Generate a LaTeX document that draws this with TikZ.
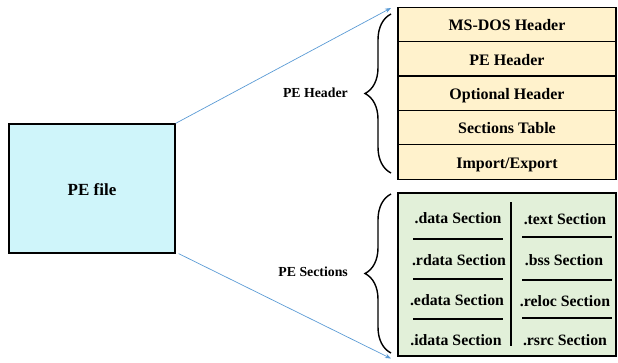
\documentclass[tikz,border=0pt]{standalone}
\usepackage{fontspec}
\setmainfont{Liberation Serif}
\usetikzlibrary{decorations.pathreplacing,arrows.meta}
\definecolor{hdrfill}{RGB}{255,242,204}
\definecolor{secfill}{RGB}{226,240,217}
\definecolor{pefill}{RGB}{207,245,250}
\definecolor{arrowblue}{RGB}{91,155,213}
\begin{document}
\begin{tikzpicture}[x=1pt,y=-1pt,
  pebox/.style={draw=black,line width=1.2pt,fill=pefill,minimum width=166pt,minimum height=129pt,inner sep=0pt,text height=13pt,text depth=0pt,font=\fontsize{17}{20}\selectfont\bfseries},
  hdrrow/.style={draw=black,line width=1.2pt,fill=hdrfill,minimum width=218pt,minimum height=34.4pt,inner sep=0pt,text height=12.4pt,text depth=0pt,font=\fontsize{16}{19}\selectfont\bfseries},
  secbox/.style={draw=black,line width=1.2pt,fill=secfill,minimum width=218pt,minimum height=163pt,inner sep=0pt},
  sectxt/.style={anchor=base,inner sep=0pt,font=\fontsize{15.8}{19}\selectfont\bfseries},
  grplabel/.style={anchor=base east,inner sep=0pt,font=\fontsize{13.8}{16}\selectfont\bfseries},
  sepline/.style={line width=1.1pt,draw=black},
  bracestyle/.style={decorate,decoration={brace,amplitude=26pt,aspect=0.5},line width=1.4pt},
  arr/.style={draw=arrowblue,line width=0.7pt,-{Stealth[length=6pt,width=4.5pt]}}
]
\useasboundingbox (0,0) rectangle (618,362);

% PE file box
\node[pebox] (pe) at (92,188.5) {PE file};

% Header stack
\node[hdrrow] (h1) at (507,24.4) {MS-DOS Header};
\node[hdrrow] (h2) at (507,58.8) {PE Header};
\node[hdrrow] (h3) at (507,93.2) {Optional Header};
\node[hdrrow] (h4) at (507,127.6) {Sections Table};
\node[hdrrow] (h5) at (507,162) {Import/Export};

% Sections box
\node[secbox] (sec) at (507,274.5) {};
\node[sectxt] (s1) at (458,223.3) {.data Section};
\node[sectxt] (s2) at (459,265.7) {.rdata Section};
\node[sectxt] (s3) at (457,305) {.edata Section};
\node[sectxt] (s4) at (456,345) {.idata Section};
\node[sectxt] (s5) at (565,224) {.text Section};
\node[sectxt] (s6) at (564,265.7) {.bss Section};
\node[sectxt] (s7) at (565,306) {.reloc Section};
\node[sectxt] (s8) at (565,345.5) {.rsrc Section};
\draw[sepline] (511,202) -- (511,346);
\draw[sepline] (413,239) -- (503,239);
\draw[sepline] (413,279) -- (503,279);
\draw[sepline] (413,319) -- (503,319);
\draw[sepline] (522,237) -- (612,237);
\draw[sepline] (522,280) -- (612,280);
\draw[sepline] (522,318) -- (612,318);

% Braces
\coordinate (b1bot) at (391,173);
\coordinate (b1top) at (391,14);
\coordinate (b2bot) at (391,353);
\coordinate (b2top) at (391,194);
\draw[bracestyle] (b1bot) -- (b1top);
\draw[bracestyle] (b2bot) -- (b2top);

% Group labels
\node[grplabel] (lh) at (348,97.7) {PE Header};
\node[grplabel] (ls) at (348,276.7) {PE Sections};

% Arrows
\coordinate (a1end) at (391,8);
\coordinate (a2end) at (391,358.5);
\draw[arr] (pe.north east) -- (a1end);
\draw[arr] ([xshift=3pt]pe.south east) -- (a2end);
\end{tikzpicture}
\end{document}
